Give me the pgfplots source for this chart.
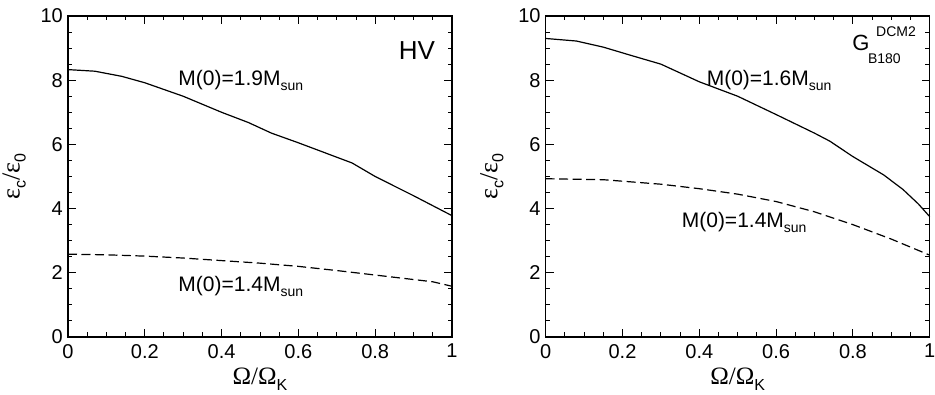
\documentclass[border=0pt]{standalone}
\usepackage{fontspec}
\setmainfont{Liberation Sans}
\newfontfamily\grk{Liberation Serif}
\usepackage{pgfplots}
\pgfplotsset{compat=1.18}
\newcommand{\sub}[1]{\raisebox{-5pt}{\fontsize{14}{14}\selectfont #1}}
\newcommand{\lsub}[1]{\raisebox{-6pt}{\fontsize{16}{16}\selectfont #1}}
\newcommand{\ann}{\fontsize{21}{24}\selectfont}
\begin{document}
\begin{tikzpicture}
\pgfplotsset{
  myax/.style={
    scale only axis, width=384pt, height=321pt,
    xmin=0,xmax=1,ymin=0,ymax=10,
    xtick={0,0.2,0.4,0.6,0.8,1}, xticklabels={0,0.2,0.4,0.6,0.8,1},
    ytick={0,2,4,6,8,10}, yticklabels={0,2,4,6,8,10},
    minor x tick num=3, minor y tick num=3,
    tick align=inside, major tick length=8pt, minor tick length=4.5pt,
    axis line style={line width=1.2pt},
    every tick/.style={line width=1pt, black},
    tick label style={font=\fontsize{20}{22}\selectfont},
    xticklabel style={inner sep=0pt, yshift=-7pt},
    yticklabel style={inner sep=0pt, xshift=-5pt},
    /pgf/number format/assume math mode=true,
    xlabel={{\grk\fontsize{25}{26}\selectfont Ω/Ω}\lsub{K}},
    ylabel={{\grk\fontsize{26}{26}\selectfont ε}\lsub{c}{\grk\fontsize{26}{26}\selectfont /ε}\lsub{0}},
    xlabel style={at={(axis description cs:0.5,-0.13)},anchor=center},
    ylabel style={at={(axis description cs:-0.14,0.5)},anchor=center,rotate=0},
    clip=false,
  },
  solidc/.style={black, line width=1.2pt},
  dashc/.style={black, line width=1.2pt, dash pattern=on 9pt off 4.5pt},
}
\begin{axis}[myax, at={(0pt,0pt)}]
\addplot[solidc] coordinates {(0,8.33) (0.07,8.28) (0.14,8.12) (0.2,7.92) (0.3,7.5) (0.4,7.0) (0.47,6.68) (0.53,6.35) (0.6,6.05) (0.74,5.42) (0.8,5.0) (0.9,4.4) (1,3.78)};
\addplot[dashc] coordinates {(0,2.58) (0.1,2.56) (0.2,2.52) (0.3,2.46) (0.4,2.38) (0.5,2.3) (0.6,2.2) (0.7,2.07) (0.8,1.93) (0.9,1.79) (0.95,1.72) (1,1.58)};
\node[anchor=base west, inner sep=0pt] at (axis cs:0.287,7.82) {\ann M(0)=1.9M\sub{sun}};
\node[anchor=base west, inner sep=0pt] at (axis cs:0.287,1.43) {\ann M(0)=1.4M\sub{sun}};
\node[anchor=base east, inner sep=0pt] at (axis cs:0.956,8.65) {\fontsize{26}{28}\selectfont HV};
\end{axis}
\begin{axis}[myax, at={(477.7pt,0pt)}]
\addplot[solidc] coordinates {(0,9.3) (0.08,9.22) (0.15,9.03) (0.22,8.78) (0.3,8.5) (0.4,7.95) (0.5,7.5) (0.6,6.93) (0.7,6.35) (0.74,6.1) (0.8,5.62) (0.88,5.05) (0.93,4.6) (0.97,4.15) (1,3.75)};
\addplot[dashc] coordinates {(0,4.93) (0.15,4.9) (0.3,4.76) (0.4,4.62) (0.5,4.45) (0.6,4.22) (0.7,3.9) (0.8,3.5) (0.9,3.05) (1,2.55)};
\node[anchor=base west, inner sep=0pt] at (axis cs:0.419,7.85) {\ann M(0)=1.6M\sub{sun}};
\node[anchor=base west, inner sep=0pt] at (axis cs:0.354,3.4) {\ann M(0)=1.4M\sub{sun}};
\node[anchor=base west, inner sep=0pt] at (axis cs:0.798,8.94) {\fontsize{22}{24}\selectfont G};
\node[anchor=base west, inner sep=0pt] at (axis cs:0.839,8.53) {\fontsize{14}{16}\selectfont B180};
\node[anchor=base west, inner sep=0pt] at (axis cs:0.86,9.36) {\fontsize{14}{16}\selectfont DCM2};
\end{axis}
\pgfresetboundingbox
\path (-68pt,-58pt) rectangle (867pt,337pt);
\end{tikzpicture}
\end{document}
